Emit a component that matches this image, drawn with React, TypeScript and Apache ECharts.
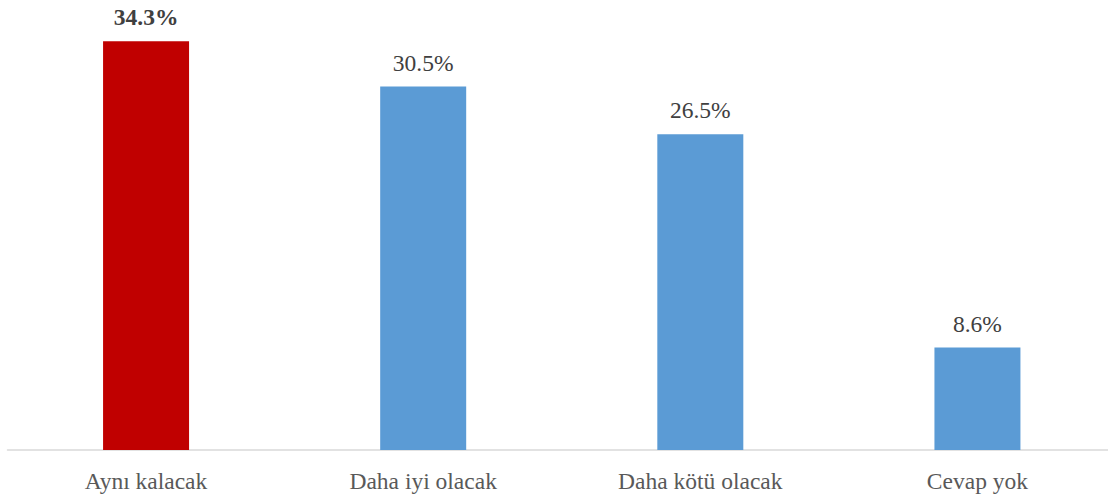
import React, { useEffect, useRef } from "react";
import * as echarts from "echarts";

const categories = ["Aynı kalacak", "Daha iyi olacak", "Daha kötü olacak", "Cevap yok"];
const values = [34.3, 30.5, 26.5, 8.6];
const barColors = ["#C00000", "#5B9BD5", "#5B9BD5", "#5B9BD5"];
const boldLabels = [true, false, false, false];

const FONT = "'Liberation Serif', 'Times New Roman', serif";

export default function App() {
  const ref = useRef<HTMLDivElement>(null);
  useEffect(() => {
    if (!ref.current) return;
    const chart = echarts.init(ref.current, undefined, { renderer: "svg" });
    chart.setOption({
      animation: false,
      grid: {
        left: 7.5,
        right: 0,
        top: 33,
        bottom: 47,
        containLabel: false,
        outerBoundsMode: "none",
      },
      xAxis: {
        type: "category",
        data: categories,
        axisLine: { show: true, lineStyle: { color: "#D9D9D9", width: 1.5 } },
        axisTick: { show: false },
        axisLabel: {
          color: "#595959",
          fontFamily: FONT,
          fontSize: 23.5,
          margin: 19,
        },
      },
      yAxis: {
        type: "value",
        min: 0,
        max: 35,
        show: false,
        splitLine: { show: false },
      },
      series: [
        {
          type: "bar",
          barWidth: 86,
          data: values.map((v, i) => ({
            value: v,
            itemStyle: { color: barColors[i] },
            label: {
              show: true,
              position: "top",
              distance: 12,
              formatter: (p: any) => p.value.toFixed(1) + "%",
              color: "#404040",
              fontFamily: FONT,
              fontSize: 23.5,
              fontWeight: boldLabels[i] ? "bold" : "normal",
            },
          })),
        },
      ],
    });
    return () => chart.dispose();
  }, []);
  return (
    <div
      style={{
        position: "absolute",
        left: 0,
        top: 0,
        width: 1108,
        height: 497,
        overflow: "hidden",
      }}
    >
      <div ref={ref} style={{ width: 1115.5, height: 497 }} />
    </div>
  );
}
